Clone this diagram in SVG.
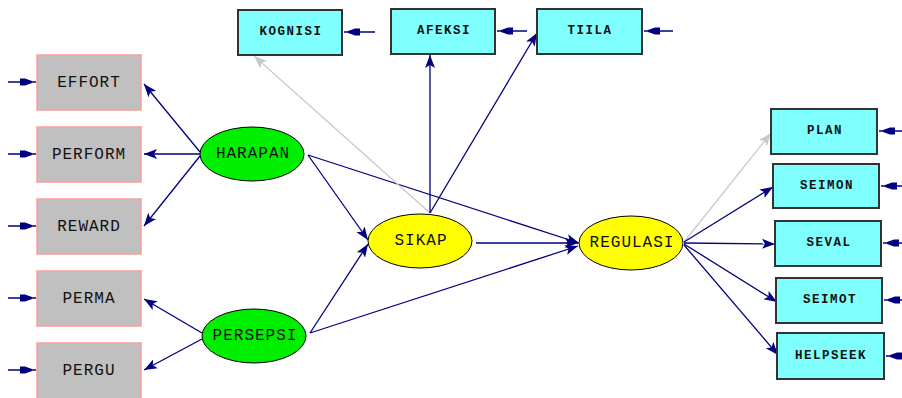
<svg xmlns="http://www.w3.org/2000/svg" width="902" height="398" viewBox="0 0 902 398">
<style>
.obs{fill:#c0c0c0;stroke:#ff9a9a;stroke-width:1.5}
.ind{fill:#80ffff;stroke:#333;stroke-width:2}
.lat{stroke:#000;stroke-width:1}
.big{font-family:"Liberation Mono",monospace;font-size:16px;letter-spacing:1px;fill:#111;text-anchor:middle;dominant-baseline:central}
.sm{font-family:"Liberation Mono",monospace;font-size:12.5px;font-weight:bold;letter-spacing:1.5px;fill:#111;text-anchor:middle;dominant-baseline:central}
.c{stroke:#000080;stroke-width:1.3;fill:none;marker-end:url(#ah)}
.g{stroke:#c8c8c8;stroke-width:1.3;fill:none;marker-end:url(#ag)}
.e{stroke:#000080;stroke-width:1.5;fill:none;marker-end:url(#ae)}
</style>
<defs>
<marker id="ah" markerUnits="userSpaceOnUse" markerWidth="14" markerHeight="12" viewBox="-13 -6 14 12" refX="0" refY="0" orient="auto"><path d="M0,0 L-13,-5 L-10,0 L-13,5 Z" fill="#000080"/></marker>
<marker id="ag" markerUnits="userSpaceOnUse" markerWidth="14" markerHeight="12" viewBox="-13 -6 14 12" refX="0" refY="0" orient="auto"><path d="M0,0 L-13,-5 L-10,0 L-13,5 Z" fill="#c8c8c8"/></marker>
<marker id="ae" markerUnits="userSpaceOnUse" markerWidth="18" markerHeight="10" viewBox="-17 -5 18 10" refX="0" refY="0" orient="auto"><path d="M-4,-1 L-4,1 L-11,3.5 L-16,3.5 L-16,-3.5 L-11,-3.5 Z" fill="#000080"/></marker>
</defs>
<g id="connectors">
<line class="c" x1="200" y1="152" x2="144" y2="84"/>
<line class="c" x1="200" y1="154" x2="144" y2="154"/>
<line class="c" x1="200" y1="156" x2="144" y2="226"/>
<line class="c" x1="202" y1="333" x2="144" y2="299"/>
<line class="c" x1="202" y1="339" x2="144" y2="370"/>
<line class="c" x1="308" y1="155" x2="368" y2="240"/>
<line class="c" x1="310" y1="333" x2="368" y2="244"/>
<line class="c" x1="308" y1="155" x2="579" y2="243"/>
<line class="c" x1="476" y1="243" x2="578" y2="243"/>
<line class="c" x1="310" y1="333" x2="578" y2="246"/>
<line class="g" x1="430" y1="213" x2="254" y2="56"/>
<line class="c" x1="430" y1="213" x2="430" y2="55"/>
<line class="c" x1="430" y1="213" x2="537" y2="33"/>
<line class="g" x1="684" y1="242" x2="771" y2="133"/>
<line class="c" x1="684" y1="242" x2="773" y2="187"/>
<line class="c" x1="684" y1="243" x2="775" y2="244"/>
<line class="c" x1="684" y1="244" x2="777" y2="302"/>
<line class="c" x1="684" y1="245" x2="778" y2="355"/>
<line class="e" x1="8" y1="82" x2="36" y2="82"/>
<line class="e" x1="8" y1="154" x2="36" y2="154"/>
<line class="e" x1="8" y1="226" x2="36" y2="226"/>
<line class="e" x1="8" y1="298" x2="36" y2="298"/>
<line class="e" x1="8" y1="370" x2="36" y2="370"/>
<line class="e" x1="375" y1="32" x2="344" y2="32"/>
<line class="e" x1="527" y1="31" x2="497" y2="31"/>
<line class="e" x1="673" y1="31" x2="644" y2="31"/>
<line class="e" x1="905" y1="131" x2="879" y2="131"/>
<line class="e" x1="905" y1="186" x2="881" y2="186"/>
<line class="e" x1="905" y1="243" x2="883" y2="243"/>
<line class="e" x1="905" y1="300" x2="884" y2="300"/>
<line class="e" x1="905" y1="356" x2="886" y2="356"/>
</g>
<g id="EFFORT"><rect class="obs" x="37" y="55" width="104" height="55"/><text class="big" x="89" y="83">EFFORT</text></g>
<g id="PERFORM"><rect class="obs" x="37" y="127" width="104" height="55"/><text class="big" x="89" y="155">PERFORM</text></g>
<g id="REWARD"><rect class="obs" x="37" y="199" width="104" height="55"/><text class="big" x="89" y="227">REWARD</text></g>
<g id="PERMA"><rect class="obs" x="37" y="271" width="104" height="55"/><text class="big" x="89" y="299">PERMA</text></g>
<g id="PERGU"><rect class="obs" x="37" y="343" width="104" height="56"/><text class="big" x="89" y="371">PERGU</text></g>
<g id="KOGNISI"><rect class="ind" x="238" y="10" width="104" height="45"/><text class="sm" x="291" y="32">KOGNISI</text></g>
<g id="AFEKSI"><rect class="ind" x="391" y="9" width="104" height="45"/><text class="sm" x="444" y="31">AFEKSI</text></g>
<g id="TIILA"><rect class="ind" x="537" y="9" width="105" height="45"/><text class="sm" x="590" y="31">TIILA</text></g>
<g id="PLAN"><rect class="ind" x="771" y="109" width="106" height="45"/><text class="sm" x="825" y="131">PLAN</text></g>
<g id="SEIMON"><rect class="ind" x="773" y="164" width="106" height="44"/><text class="sm" x="827" y="186">SEIMON</text></g>
<g id="SEVAL"><rect class="ind" x="775" y="221" width="106" height="45"/><text class="sm" x="829" y="243">SEVAL</text></g>
<g id="SEIMOT"><rect class="ind" x="776" y="278" width="106" height="45"/><text class="sm" x="830" y="300">SEIMOT</text></g>
<g id="HELPSEEK"><rect class="ind" x="777" y="333" width="107" height="46"/><text class="sm" x="831" y="356">HELPSEEK</text></g>
<g id="HARAPAN"><ellipse class="lat" cx="252" cy="154" rx="52" ry="27" fill="#00ee00"/><text class="big" x="253" y="154">HARAPAN</text></g>
<g id="PERSEPSI"><ellipse class="lat" cx="254" cy="336" rx="52" ry="27" fill="#00ee00"/><text class="big" x="255" y="336">PERSEPSI</text></g>
<g id="SIKAP"><ellipse class="lat" cx="420" cy="241" rx="52" ry="27" fill="#ffff00"/><text class="big" x="421" y="241">SIKAP</text></g>
<g id="REGULASI"><ellipse class="lat" cx="631" cy="243" rx="52" ry="27" fill="#ffff00"/><text class="big" x="632" y="243">REGULASI</text></g>
</svg>
